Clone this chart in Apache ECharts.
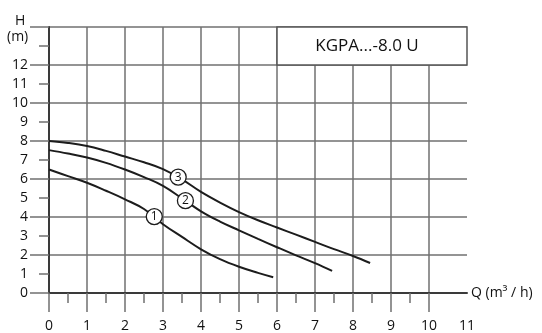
<!DOCTYPE html>
<html>
<head>
<meta charset="utf-8">
<script src="https://cdn.jsdelivr.net/npm/echarts@6/dist/echarts.min.js"></script>
<style>html,body{margin:0;padding:0;background:#fff}#c{width:542px;height:333px}</style>
</head>
<body>
<div id="c"></div>
<script>
// ---- data ----
const chartTitle = 'KGPA...-8.0 U';
const xTickLabels = [0,1,2,3,4,5,6,7,8,9,10,11];
const xMajorTicks = [0,1,2,3,4,5,6,7,8,9,10];
const xMinorTicks = [0.5,1.5,2.5,3.5,4.5,5.5,6.5,7.5,8.5,9.5];
const yTickLabels = [0,1,2,3,4,5,6,7,8,9,10,11,12];
const curve1 = [[0,6.5],[0.5,6.15],[1,5.8],[1.5,5.38],[2,4.93],[2.5,4.42],[3,3.62],[3.5,2.95],[4,2.3],[4.5,1.78],[5,1.38],[5.5,1.06],[5.9,0.83]];
const curve2 = [[0,7.52],[0.5,7.34],[1,7.13],[1.5,6.85],[2,6.5],[2.5,6.1],[3,5.64],[3.5,4.98],[4,4.3],[4.5,3.76],[5,3.3],[5.5,2.85],[6,2.41],[6.5,1.98],[7,1.57],[7.45,1.16]];
const curve3 = [[0,8.0],[0.5,7.9],[1,7.74],[1.5,7.48],[2,7.18],[2.5,6.88],[3,6.52],[3.5,5.98],[4,5.32],[4.5,4.76],[5,4.26],[5.5,3.83],[6,3.45],[6.5,3.07],[7,2.69],[7.5,2.31],[8,1.95],[8.45,1.58]];
const curveMarkers = [[2.77,4.02,'1'],[3.59,4.86,'2'],[3.4,6.1,'3']];
const titleBox = [[6,12],[11,14]];

const gridCol = '#707070';
const axisCol = '#3a3a3a';
const font = 'Open Sans';
const chart = echarts.init(document.getElementById('c'));
const lineSeries = (d, extra) => Object.assign({
  type: 'line', data: d, smooth: 0.4, symbol: 'none', silent: true,
  lineStyle: {color: '#1c1c1c', width: 2}, z: 3
}, extra || {});
const gridPos = {left: 49, right: 75, top: 27, bottom: 40, containLabel: false};
chart.setOption({
  animation: false,
  backgroundColor: '#fff',
  textStyle: {fontFamily: font},
  grid: [gridPos, Object.assign({}, gridPos)],
  xAxis: [{
    type: 'value', gridIndex: 0, min: 0, max: 11, interval: 1,
    axisLine: {show: true, onZero: false, lineStyle: {color: axisCol, width: 2}},
    axisTick: {show: true, customValues: xMajorTicks, length: 19, lineStyle: {color: gridCol, width: 1.5}},
    axisLabel: {show: true, customValues: xTickLabels, margin: 26, fontSize: 14, color: '#111', fontFamily: font},
    splitLine: {show: true, lineStyle: {color: gridCol, width: 1.5}},
    name: 'Q (m³ / h)', nameLocation: 'end', nameGap: 4,
    nameTextStyle: {fontSize: 14, color: '#111', fontFamily: font, verticalAlign: 'middle'}
  }, {
    type: 'value', gridIndex: 1, min: 0, max: 11, interval: 1,
    axisLine: {show: false},
    axisTick: {show: true, customValues: xMinorTicks, length: 10, lineStyle: {color: gridCol, width: 1.5}},
    axisLabel: {show: false}, splitLine: {show: false}
  }],
  yAxis: [{
    type: 'value', gridIndex: 0, min: 0, max: 14, interval: 2,
    axisLine: {show: true, onZero: false, lineStyle: {color: axisCol, width: 2}},
    axisTick: {show: true, length: 19, lineStyle: {color: gridCol, width: 1.5}},
    minorTick: {show: true, splitNumber: 2, length: 10, lineStyle: {color: gridCol, width: 1.5}},
    axisLabel: {show: true, customValues: yTickLabels, margin: 21, fontSize: 14, color: '#111', fontFamily: font},
    splitLine: {show: true, lineStyle: {color: gridCol, width: 1.5}}
  }, {
    type: 'value', gridIndex: 1, min: 0, max: 14, show: false
  }],
  graphic: [
    {type: 'text', left: 15, top: 14, style: {text: 'H', fontSize: 14, fill: '#111', fontFamily: font}},
    {type: 'text', left: 7, top: 30, style: {text: '(m)', fontSize: 14, fill: '#111', fontFamily: font}}
  ],
  series: [
    lineSeries(curve1, {
      markArea: {
        silent: true,
        itemStyle: {color: '#fff', opacity: 1, borderColor: '#555', borderWidth: 1.5},
        label: {show: true, position: 'inside', formatter: chartTitle, fontSize: 17, color: '#111', fontFamily: font, offset: [-5, 0]},
        data: [[{coord: titleBox[0]}, {coord: titleBox[1]}]]
      }
    }),
    lineSeries(curve2),
    lineSeries(curve3),
    {
      type: 'scatter', data: curveMarkers, symbol: 'circle', symbolSize: 16, silent: true, z: 5,
      itemStyle: {color: '#fff', borderColor: '#1c1c1c', borderWidth: 1.3, opacity: 1},
      label: {show: true, position: 'inside', formatter: p => p.value[2], fontSize: 12, color: '#111', fontFamily: font}
    }
  ]
});
</script>
</body>
</html>
